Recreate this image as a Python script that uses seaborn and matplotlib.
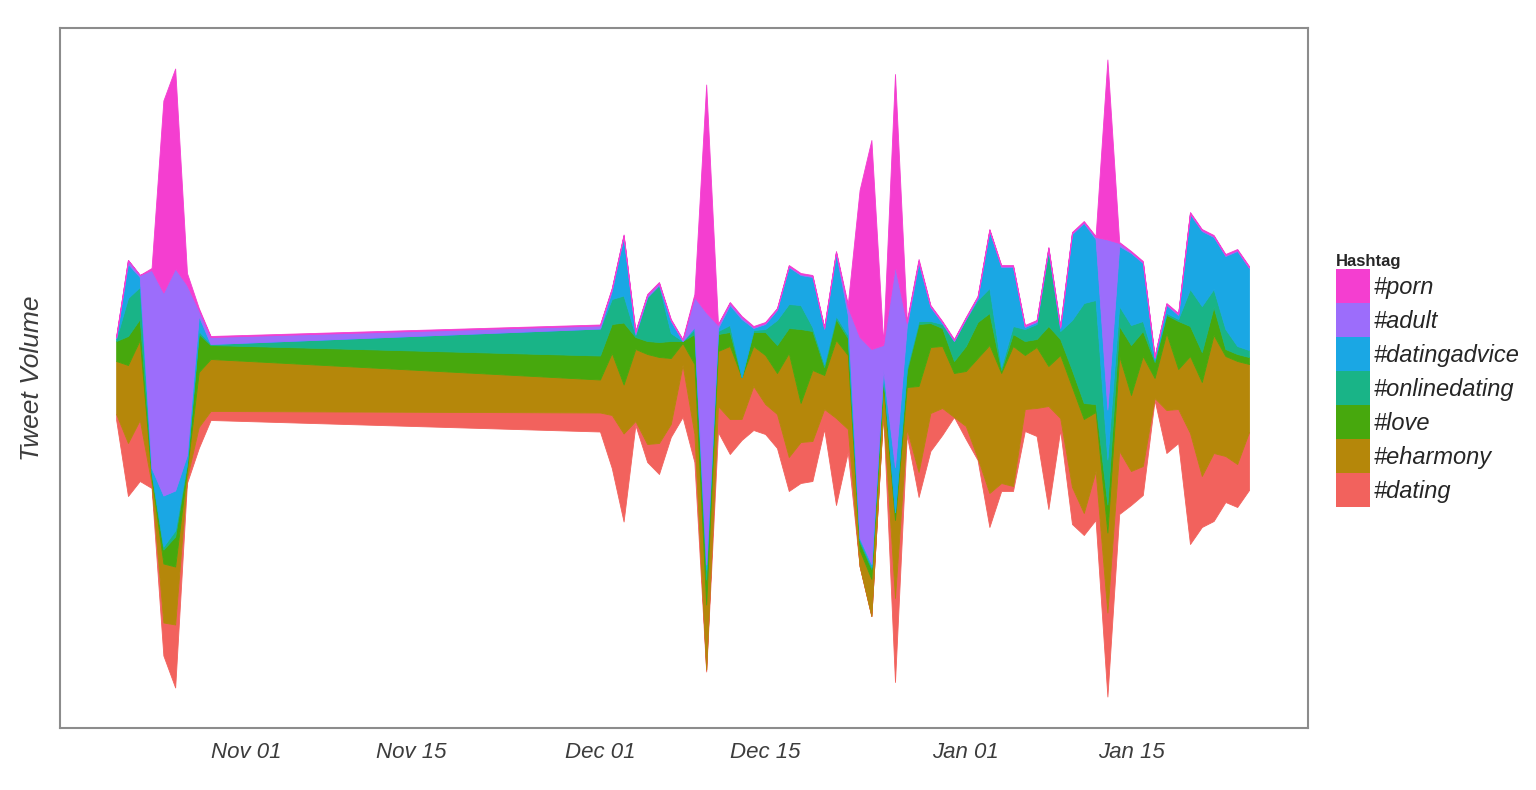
import numpy as np
import pandas as pd
import seaborn as sns
import matplotlib.pyplot as plt
from matplotlib.patches import Patch

# daily points: a short run in late October, nothing in November, then Dec 1 - Jan 25
dates = list(pd.date_range('2014-10-21', '2014-10-29')) + list(pd.date_range('2014-12-01', '2015-01-25'))

porn = [1, 0, 0, 2, 192, 200, 12, 2, 1,
        1, 1, 1, 1, 1, 1, 1, 1, 3, 228, 1, 1, 1, 1, 1, 1, 1, 1, 1, 1, 1, 3, 147, 209, 2, 192, 2, 2, 1, 1, 1,
        1, 1, 1, 1, 1, 1, 1, 1, 1, 1, 1, 1, 180, 1, 1, 1, 1, 1, 1, 1, 1, 1, 1, 1, 1]
adult = [1, 4, 2, 198, 203, 222, 170, 6, 7,
         3, 2, 1, 2, 2, 2, 1, 1, 30, 252, 3, 2, 2, 1, 1, 1, 1, 1, 1, 1, 1, 8, 201, 215, 25, 201, 3, 2, 1, 1, 1,
         1, 1, 1, 1, 1, 1, 1, 1, 1, 1, 1, 2, 170, 3, 1, 1, 1, 1, 1, 1, 1, 1, 1, 1, 1]
datingadvice = [1, 34, 10, 4, 51, 40, 8, 15, 0,
                0, 8, 59, 1, 0, 0, 12, 0, 2, 5, 3, 20, 58, 2, 5, 10, 37, 30, 50, 35, 63, 20, 2, 3, 3, 45, 42, 58, 14, 1, 0,
                0, 2, 57, 100, 59, 2, 2, 2, 3, 86, 80, 61, 50, 60, 72, 58, 2, 8, 4, 75, 75, 52, 73, 95, 82]
onlinedating = [2, 38, 32, 2, 3, 6, 2, 3, 1,
                27, 25, 27, 2, 44, 57, 8, 0, 5, 10, 3, 7, 0, 2, 3, 25, 24, 24, 4, 3, 3, 3, 2, 2, 2, 0, 3, 3, 2, 4, 20,
                27, 22, 25, 3, 8, 12, 15, 75, 8, 50, 100, 104, 45, 20, 20, 10, 2, 2, 2, 37, 46, 18, 20, 8, 7]
love = [20, 29, 21, 4, 14, 30, 5, 38, 14,
        24, 29, 62, 12, 13, 15, 17, 2, 30, 25, 17, 14, 0, 14, 23, 28, 25, 74, 39, 8, 21, 17, 8, 10, 10, 8, 16, 62, 24, 18, 12,
        25, 36, 32, 3, 12, 14, 8, 40, 16, 17, 16, 8, 28, 30, 50, 25, 16, 18, 48, 30, 30, 28, 7, 7, 7]
eharmony = [53, 78, 80, 6, 59, 58, 8, 55, 52,
            33, 62, 49, 72, 90, 86, 66, 22, 70, 65, 55, 73, 42, 40, 49, 41, 104, 39, 71, 34, 78, 74, 16, 37, 26, 78, 42, 86, 66, 62, 44,
            55, 100, 148, 110, 140, 54, 61, 40, 63, 100, 94, 59, 80, 95, 76, 110, 20, 77, 40, 77, 94, 118, 100, 103, 68]
dating = [6, 53, 61, 4, 33, 63, 5, 21, 9,
          19, 53, 88, 4, 18, 31, 13, 52, 28, 2, 26, 35, 21, 44, 30, 34, 34, 41, 40, 20, 87, 23, 0, 0, 2, 84, 6, 25, 38, 27, 0,
          13, 2, 34, 8, 5, 22, 28, 103, 12, 37, 22, 49, 84, 63, 34, 29, 2, 43, 34, 111, 51, 68, 46, 43, 58]

hashtags = ['#dating', '#eharmony', '#love', '#onlinedating', '#datingadvice', '#adult', '#porn']
colors = ['#F2625D', '#B5870A', '#47A80D', '#19B487', '#1AA7E4', '#9C6DFB', '#F43ED0']

df = pd.DataFrame({'#dating': dating, '#eharmony': eharmony, '#love': love,
                   '#onlinedating': onlinedating, '#datingadvice': datingadvice,
                   '#adult': adult, '#porn': porn}, index=pd.to_datetime(dates))

sns.set_style('white')
plt.rcParams['font.family'] = ['Liberation Sans', 'DejaVu Sans']

fig = plt.figure(figsize=(15.36, 7.90), dpi=100)
ax = fig.add_axes([60/1536, 1-728/790, 1248/1536, 700/790])

# streamgraph: stack centred on zero
polys = ax.stackplot(df.index, [df[h] for h in hashtags], colors=colors, baseline='sym')
for p, c in zip(polys, colors):
    p.set_edgecolor(c)
    p.set_linewidth(0.6)

nov1 = pd.Timestamp('2014-11-01')
ax.set_xlim(nov1 - pd.Timedelta(days=15.76), nov1 + pd.Timedelta(days=90))
ax.set_ylim(-350, 350)

ticks = pd.to_datetime(['2014-11-01', '2014-11-15', '2014-12-01', '2014-12-15', '2015-01-01', '2015-01-15'])
ax.set_xticks(ticks)
ax.set_xticklabels([t.strftime('%b %d') for t in ticks], fontstyle='italic', fontsize=16, color='#3c3c3c')
ax.set_yticks([-213, 0, 213])
ax.set_yticklabels([])
ax.tick_params(axis='both', direction='out', length=6, width=1, color='#8c8c8c', pad=4)

for s in ax.spines.values():
    s.set_color('#8c8c8c')
    s.set_linewidth(1.5)

ax.set_ylabel('Tweet Volume', fontsize=19, fontstyle='italic', color='#3c3c3c')
ax.yaxis.set_label_coords(-0.013, 0.5)

handles = [Patch(facecolor=c, edgecolor='none') for c in colors[::-1]]
fig.legend(handles, hashtags[::-1], loc='upper left', bbox_to_anchor=(1336/1536, 1-254/790),
           frameon=False, prop={'style': 'italic', 'size': 17}, title='Hashtag',
           title_fontproperties={'weight': 'bold', 'size': 12}, alignment='left',
           handlelength=1.45, handleheight=1.84, labelspacing=0, handletextpad=0.15,
           borderpad=0, borderaxespad=0)

fig.savefig('out.png', dpi=100)
